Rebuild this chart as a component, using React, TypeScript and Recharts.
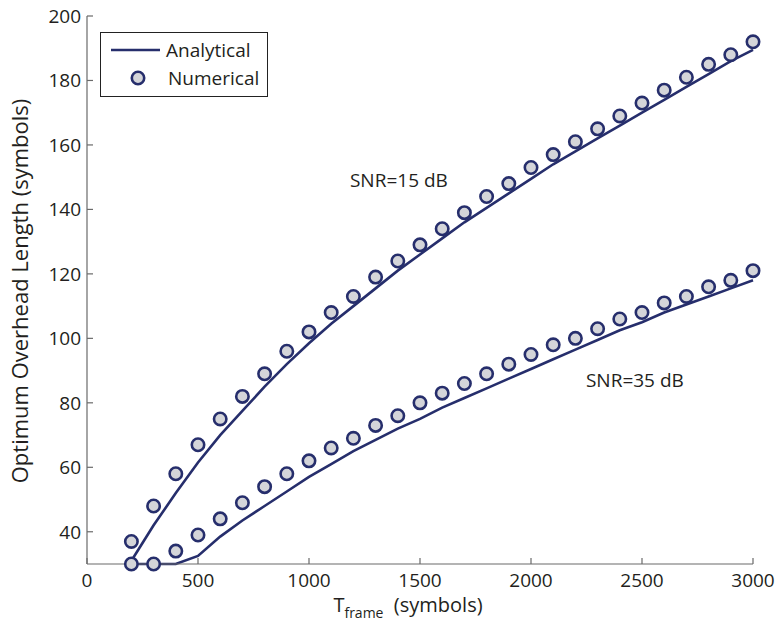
import { ComposedChart, Line, Scatter, XAxis, YAxis, ReferenceDot, Label } from 'recharts';

const frameLengths = [200, 300, 400, 500, 600, 700, 800, 900, 1000, 1100, 1200, 1300, 1400, 1500, 1600, 1700, 1800, 1900, 2000, 2100, 2200, 2300, 2400, 2500, 2600, 2700, 2800, 2900, 3000];

const analytical15 = [31, 42, 52, 61.5, 70, 77.5, 85, 92, 98.5, 104.5, 110, 115.5, 121, 126, 131, 136, 140.5, 145, 149.5, 154, 158, 162, 166, 170, 174, 178, 182, 186, 189.5];
const numerical15 = [37, 48, 58, 67, 75, 82, 89, 96, 102, 108, 113, 119, 124, 129, 134, 139, 144, 148, 153, 157, 161, 165, 169, 173, 177, 181, 185, 188, 192];

const analytical35 = [30, 30, 30, 32.5, 38.5, 43.5, 48, 52.5, 57, 61, 65, 68.5, 72, 75, 78.5, 81.5, 84.5, 87.5, 90.5, 93.5, 96.5, 99.5, 102.5, 105, 108, 110.5, 113, 115.5, 118];
const numerical35 = [30, 30, 34, 39, 44, 49, 54, 58, 62, 66, 69, 73, 76, 80, 83, 86, 89, 92, 95, 98, 100, 103, 106, 108, 111, 113, 116, 118, 121];

const xTicks = [0, 500, 1000, 1500, 2000, 2500, 3000];
const yTicks = [40, 60, 80, 100, 120, 140, 160, 180, 200];

const NAVY = '#262e6c';
const MARKER_FILL = '#d4d5d9';
const AXIS = '#6a6a6a';
const TEXT = '#231f20';
const FONT = '"Open Sans", sans-serif';
const TM = 8;

const toPoints = (ys: number[]) => frameLengths.map((x, i) => ({ x, y: ys[i] }));

function XTick(props: any) {
  const { x, y, payload } = props;
  const axisY = y - TM;
  return (
    <g>
      <line x1={x} y1={axisY} x2={x} y2={axisY - 6} stroke={AXIS} strokeWidth={1.2} />
      <text x={x} y={axisY + 23} textAnchor="middle" fill={TEXT} fontSize={19} fontFamily={FONT}>
        {payload.value}
      </text>
    </g>
  );
}

function YTick(props: any) {
  const { x, y, payload } = props;
  const axisX = x + TM;
  return (
    <g>
      <line x1={axisX} y1={y} x2={axisX + 6} y2={y} stroke={AXIS} strokeWidth={1.2} />
      <text x={axisX - 6} y={y + 7} textAnchor="end" fill={TEXT} fontSize={19} fontFamily={FONT}>
        {payload.value}
      </text>
    </g>
  );
}

const Marker = (p: any) => (
  <circle cx={p.cx} cy={p.cy} r={6.2} fill={MARKER_FILL} stroke={NAVY} strokeWidth={2.6} />
);

const XLabel = (props: any) => {
  const { x, y, width } = props.viewBox;
  const cx = x + width / 2 - 12;
  return (
    <text x={cx} y={y + 48} textAnchor="middle" fill={TEXT} fontSize={20} fontFamily={FONT}>
      <tspan>T</tspan>
      <tspan fontSize={14} dy={6}>frame</tspan>
      <tspan dy={-6}>{'\u00a0\u00a0(symbols)'}</tspan>
    </text>
  );
};

const YLabel = (props: any) => {
  const { y, height } = props.viewBox;
  const cy = y + height / 2 + 1;
  return (
    <text
      x={28}
      y={cy}
      transform={`rotate(-90, 28, ${cy})`}
      textAnchor="middle"
      fill={TEXT}
      fontSize={22}
      fontFamily={FONT}
    >
      Optimum Overhead Length (symbols)
    </text>
  );
};

const LegendBox = () => (
  <div
    style={{
      position: 'absolute',
      left: 100,
      top: 32,
      width: 166,
      height: 63,
      border: '1.5px solid #222',
      background: '#fff',
    }}
  >
    <svg width={166} height={63} style={{ position: 'absolute', left: 0, top: 0 }}>
      <line x1={10} y1={17} x2={59} y2={17} stroke={NAVY} strokeWidth={2.6} />
      <circle cx={37} cy={45} r={6.2} fill={MARKER_FILL} stroke={NAVY} strokeWidth={2.6} />
      <text x={65} y={24} fill={TEXT} fontSize={19} fontFamily={FONT}>Analytical</text>
      <text x={67} y={52} fill={TEXT} fontSize={19} fontFamily={FONT}>Numerical</text>
    </svg>
  </div>
);

const Annotation = (text: string) => (p: any) => (
  <text x={p.cx} y={p.cy} textAnchor="middle" fill={TEXT} fontSize={19} fontFamily={FONT}>
    {text}
  </text>
);

export default function App() {
  return (
    <div style={{ position: 'absolute', left: 0, top: 0, width: 780, height: 626, background: '#fff' }}>
      <ComposedChart width={780} height={626} margin={{ top: 16, right: 27, bottom: 22, left: 0 }}>
        <XAxis
          type="number"
          dataKey="x"
          domain={[0, 3000]}
          ticks={xTicks}
          height={40}
          tickSize={0}
          tickMargin={TM}
          tickLine={false}
          axisLine={{ stroke: AXIS, strokeWidth: 1.2 }}
          tick={<XTick />}
          allowDuplicatedCategory={false}
        >
          <Label content={<XLabel />} />
        </XAxis>
        <YAxis
          type="number"
          dataKey="y"
          domain={[30, 200]}
          ticks={yTicks}
          width={87}
          tickSize={0}
          tickMargin={TM}
          tickLine={false}
          axisLine={{ stroke: AXIS, strokeWidth: 1.2 }}
          tick={<YTick />}
        >
          <Label content={<YLabel />} />
        </YAxis>
        <Line data={toPoints(analytical15)} dataKey="y" stroke={NAVY} strokeWidth={2.6} dot={false} isAnimationActive={false} />
        <Line data={toPoints(analytical35)} dataKey="y" stroke={NAVY} strokeWidth={2.6} dot={false} isAnimationActive={false} />
        <Scatter data={toPoints(numerical15)} dataKey="y" shape={<Marker />} isAnimationActive={false} />
        <Scatter data={toPoints(numerical35)} dataKey="y" shape={<Marker />} isAnimationActive={false} />
        <ReferenceDot x={1405} y={147} r={0} shape={Annotation('SNR=15 dB')} />
        <ReferenceDot x={2468} y={85} r={0} shape={Annotation('SNR=35 dB')} />
      </ComposedChart>
      <LegendBox />
    </div>
  );
}
